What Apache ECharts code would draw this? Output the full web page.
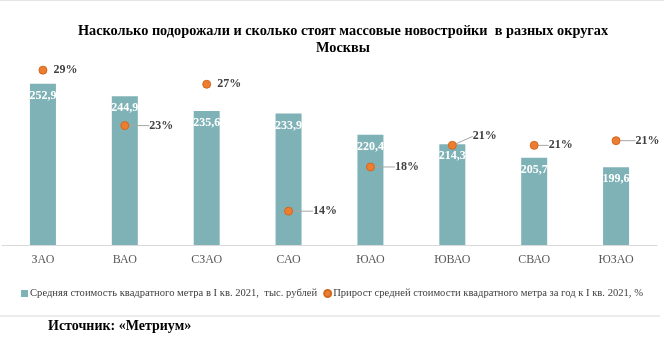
<!DOCTYPE html>
<html>
<head>
<meta charset="utf-8">
<script src="https://cdn.jsdelivr.net/npm/echarts@6/dist/echarts.min.js"></script>
<style>
html,body{margin:0;padding:0;background:#fff;}
#chart{width:664px;height:337px;}
</style>
</head>
<body>
<div id="chart"></div>
<script>
var categories = ['ЗАО','ВАО','СЗАО','САО','ЮАО','ЮВАО','СВАО','ЮЗАО'];
var priceValues = [252.9, 244.9, 235.6, 233.9, 220.4, 214.3, 205.7, 199.6];
var growthValues = [28.6, 22.7, 27.1, 13.6, 18.3, 20.6, 20.6, 21.1];
var seriesNames = ['Средняя стоимость квадратного метра в I кв. 2021,  тыс. рублей', 'Прирост средней стоимости квадратного метра за год к I кв. 2021, %'];

var serif = '"Liberation Serif", "Times New Roman", serif';
var chart = echarts.init(document.getElementById('chart'));

// label offsets per point (dx, dy); a leader line is drawn where moved
var lblShift = [[0,0],[14,0],[0,0],[14,0],[14,0],[10,-9],[4,0],[9,0]];

var growthData = growthValues.map(function(v, i){
  var moved = lblShift[i][0] !== 0 || lblShift[i][1] !== 0;
  return {value: v, labelLine: {show: moved}};
});

chart.setOption({
  animation: false,
  backgroundColor: '#fff',
  title: {
    text: 'Насколько подорожали и сколько стоят массовые новостройки  в разных округах\nМосквы',
    left: 338,
    textAlign: 'center',
    top: 18,
    textStyle: {fontFamily: serif, fontWeight: 'bold', fontSize: 14.3, color: '#000', lineHeight: 17}
  },
  legend: {
    bottom: 33,
    left: 'center',
    itemWidth: 7,
    itemHeight: 7,
    itemGap: 6,
    textStyle: {fontFamily: serif, fontSize: 10.6, color: '#404040', padding: [0,0,0,-3]},
    data: [{name: seriesNames[0], icon: 'rect'}, {name: seriesNames[1], icon: 'circle'}]
  },
  grid: {left: 2, right: 7, top: 57, bottom: 92},
  xAxis: {
    type: 'category',
    data: categories,
    axisTick: {show: false},
    axisLine: {lineStyle: {color: '#d9d9d9'}},
    axisLabel: {fontFamily: serif, fontSize: 12, color: '#595959', margin: 9}
  },
  yAxis: [
    {type: 'value', min: 150, max: 270, show: false, splitLine: {show: false}},
    {type: 'value', min: 10, max: 30, show: false, splitLine: {show: false}}
  ],
  series: [
    {
      name: seriesNames[0],
      type: 'bar',
      data: priceValues,
      barWidth: 26,
      itemStyle: {color: '#7fb2b6'},
      label: {
        show: true, position: 'insideTop', distance: 6,
        fontFamily: serif, fontWeight: 'bold', fontSize: 12, color: '#fff',
        formatter: function(p){ return p.value.toFixed(1).replace('.', ','); }
      }
    },
    {
      name: seriesNames[1],
      type: 'scatter',
      yAxisIndex: 1,
      data: growthData,
      symbolSize: 8,
      itemStyle: {color: '#ed7d31', borderColor: '#d2691e', borderWidth: 1, opacity: 1},
      label: {
        show: true, position: 'right', distance: 6,
        fontFamily: serif, fontWeight: 'bold', fontSize: 12, color: '#404040',
        formatter: function(p){ return Math.round(p.value) + '%'; }
      },
      labelLine: {show: true, lineStyle: {color: '#a6a6a6', width: 1}},
      labelLayout: function(p){
        var s = lblShift[p.dataIndex];
        return {dx: s[0], dy: s[1]};
      }
    }
  ],
  graphic: [
    {type: 'line', shape: {x1: 0, y1: 316, x2: 660, y2: 316}, style: {stroke: '#d9d9d9', lineWidth: 1}},
    {type: 'line', shape: {x1: 0, y1: 0.5, x2: 664, y2: 0.5}, style: {stroke: '#e6e6e6', lineWidth: 1}},
    {type: 'text', left: 48, top: 319, style: {text: 'Источник: «Метриум»', font: 'bold 14px ' + serif, fill: '#000'}}
  ]
});
</script>
</body>
</html>
